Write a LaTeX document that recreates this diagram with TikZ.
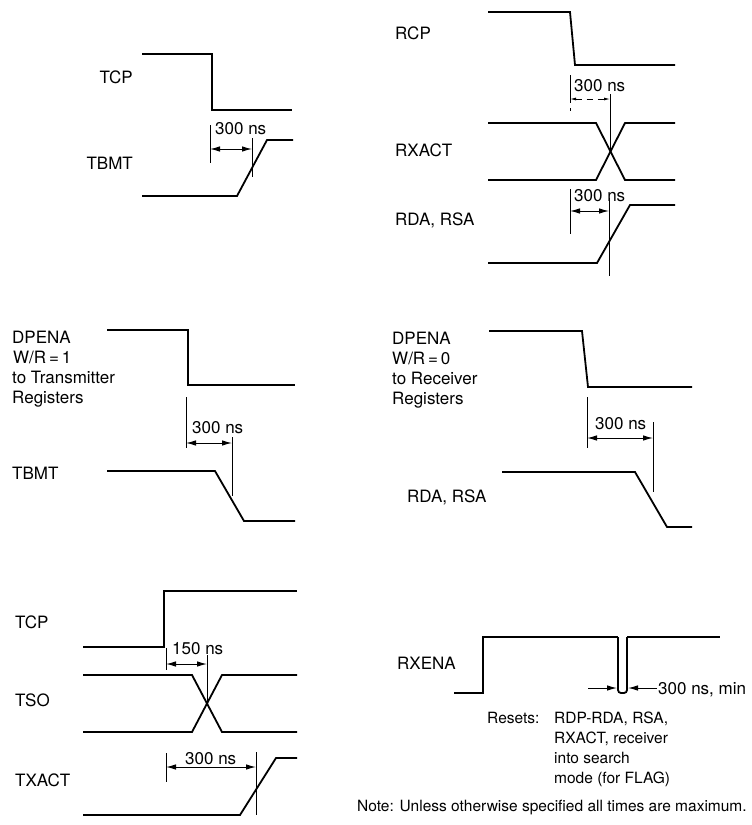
\documentclass[tikz,border=0pt]{standalone}
\usepackage{fontspec}
\setmainfont{TeX Gyre Heros}
\usetikzlibrary{arrows.meta}
\begin{document}
\begin{tikzpicture}[x=1pt,y=-1pt,
  sig/.style={line width=1.8pt,line join=miter},
  tick/.style={line width=0.9pt},
  dim/.style={line width=1pt,{Latex[length=10pt,width=5.5pt]}-{Latex[length=10pt,width=5.5pt]}},
  onearrow/.style={line width=1pt,-{Latex[length=10pt,width=5.5pt]}},
  lbl/.style={inner sep=0pt,font=\fontsize{17}{20}\selectfont},
  lw/.style={lbl,anchor=base west},
  le/.style={lbl,anchor=base east},
  small/.style={inner sep=0pt,anchor=base west,font=\fontsize{15.5}{20}\selectfont}]
\useasboundingbox (0,0) rectangle (752,825);

% ===== Panel A (top left) =====
\node[le] (aTCP) at (133,83) {TCP};
\node[le] (aTBMT) at (133,169) {TBMT};
\draw[sig] (142,54) -- (212,54) -- (212,110) -- (292,110);
\draw[sig] (142,196) -- (237,196) -- (267,140) -- (293,140);
\coordinate (aT1) at (210,125); \coordinate (aT1b) at (210,163);
\coordinate (aT2) at (252,138); \coordinate (aT2b) at (252,177);
\draw[tick] (aT1) -- (aT1b);
\draw[tick] (aT2) -- (aT2b);
\coordinate (aA1) at (210,149); \coordinate (aA2) at (252,149);
\draw[dim] (aA1) -- (aA2);
\node[lw] (aD) at (215,134) {300 ns};

% ===== Panel B (top right) =====
\node[lw] (bRCP) at (395,39) {RCP};
\node[lw] (bRX) at (395,156) {RXACT};
\node[lw] (bRDA) at (395,225) {RDA, RSA};
\draw[sig] (488,12) -- (570,12) -- (575,65) -- (675,65);
\draw[sig] (488,123) -- (596,123) -- (625,180) -- (675,180);
\draw[sig] (488,180) -- (596,180) -- (625,123) -- (675,123);
\draw[sig] (488,263) -- (597,263) -- (630,205) -- (675,205);
\coordinate (bT1) at (570,75); \coordinate (bT1b) at (570,100);
\coordinate (bT1c) at (570,112);
\coordinate (bT2) at (610,94); \coordinate (bT2b) at (610,152);
\draw[tick] (bT1) -- (bT1b);
\draw[tick,dash pattern=on 3pt off 5pt] (bT1b) -- (bT1c);
\draw[tick] (bT2) -- (bT2b);
\coordinate (bA1) at (570,99); \coordinate (bA2) at (610,99);
\draw[line width=0.8pt,dash pattern=on 6pt off 5pt,{Latex[length=6pt,width=3pt]}-{Latex[length=6pt,width=3pt]}] (bA1) -- (bA2);
\node[lw] (bD1) at (574,91) {300 ns};
\coordinate (bT3) at (570,189); \coordinate (bT3b) at (570,234);
\coordinate (bT4) at (609,198); \coordinate (bT4b) at (609,276);
\draw[tick] (bT3) -- (bT3b);
\draw[tick] (bT4) -- (bT4b);
\coordinate (bA3) at (570,211); \coordinate (bA4) at (609,211);
\draw[dim] (bA3) -- (bA4);
\node[lw] (bD2) at (574,201) {300 ns};

% ===== Panel C (middle left) =====
\node[lw] (cL1) at (12,343) {DPENA};
\node[lw] (cL2) at (13,363) {W/R\,=\,1};
\node[lw] (cL3) at (12,383) {to Transmitter};
\node[lw] (cL4) at (12,403) {Registers};
\node[lw] (cTBMT) at (12,479) {TBMT};
\draw[sig] (107,330) -- (188,330) -- (188,385) -- (295,385);
\draw[sig] (107,471) -- (215,471) -- (244,521) -- (295,521);
\coordinate (cT1) at (186,397); \coordinate (cT1b) at (186,448);
\coordinate (cT2) at (232,437); \coordinate (cT2b) at (232,496);
\draw[tick] (cT1) -- (cT1b);
\draw[tick] (cT2) -- (cT2b);
\coordinate (cA1) at (186,443); \coordinate (cA2) at (232,443);
\draw[dim] (cA1) -- (cA2);
\node[lw] (cD) at (192,433) {300 ns};

% ===== Panel D (middle right) =====
\node[lw] (dL1) at (392,344) {DPENA};
\node[lw] (dL2) at (392,364) {W/R\,=\,0};
\node[lw] (dL3) at (392,384) {to Receiver};
\node[lw] (dL4) at (392,404) {Registers};
\node[lw] (dRDA) at (407,502) {RDA, RSA};
\draw[sig] (489,331) -- (582,331) -- (588,387) -- (692,387);
\draw[sig] (502,472) -- (635,472) -- (667,527) -- (692,527);
\coordinate (dT1) at (587,397); \coordinate (dT1b) at (587,448);
\coordinate (dT2) at (653,422); \coordinate (dT2b) at (653,492);
\draw[tick] (dT1) -- (dT1b);
\draw[tick] (dT2) -- (dT2b);
\coordinate (dA1) at (587,438); \coordinate (dA2) at (653,438);
\draw[dim] (dA1) -- (dA2);
\node[lw] (dD) at (595,429) {300 ns};

% ===== Panel E (bottom left) =====
\node[lw] (eTCP) at (15,628) {TCP};
\node[lw] (eTSO) at (15,706) {TSO};
\node[lw] (eTX) at (15,786) {TXACT};
\draw[sig] (83,647) -- (164,647) -- (164,591) -- (297,591);
\draw[sig] (83,675) -- (192,675) -- (222,732) -- (297,732);
\draw[sig] (83,732) -- (192,732) -- (222,675) -- (297,675);
\draw[sig] (83,815) -- (240,815) -- (276,758) -- (297,758);
\coordinate (eT1) at (166,648); \coordinate (eT1b) at (166,670);
\coordinate (eT2) at (207,655); \coordinate (eT2b) at (207,703);
\draw[tick] (eT1) -- (eT1b);
\draw[tick] (eT2) -- (eT2b);
\coordinate (eA1) at (166,664); \coordinate (eA2) at (207,664);
\draw[dim] (eA1) -- (eA2);
\node[lw] (eD1) at (172,654) {150 ns};
\coordinate (eT3) at (166,753); \coordinate (eT3b) at (166,782);
\coordinate (eT4) at (256,752); \coordinate (eT4b) at (256,815);
\draw[tick] (eT3) -- (eT3b);
\draw[tick] (eT4) -- (eT4b);
\coordinate (eA3) at (166,767); \coordinate (eA4) at (256,767);
\draw[dim] (eA3) -- (eA4);
\node[lw] (eD2) at (185,764) {300 ns};

% ===== Panel F (bottom right) =====
\node[lw] (fRX) at (397,669) {RXENA};
\draw[sig] (454,693) -- (483,693) -- (483,637) -- (618,637);
\draw[sig,rounded corners=3pt] (618,637) -- (618,693) -- (627,693) -- (627,637);
\draw[sig] (627,637) -- (720,637);
\coordinate (fA1) at (588,688); \coordinate (fA2) at (617,688);
\coordinate (fB1) at (657,688); \coordinate (fB2) at (628,688);
\draw[onearrow] (fA1) -- (fA2);
\draw[onearrow] (fB1) -- (fB2);
\node[lw] (fD) at (658,694) {300 ns, min};
\node[small] (fR0) at (487,723) {Resets:};
\node[small] (fR1) at (554,723) {RDP-RDA, RSA,};
\node[small] (fR2) at (554,743) {RXACT, receiver};
\node[small] (fR3) at (554,763) {into search};
\node[small] (fR4) at (554,783) {mode (for FLAG)};
\node[small] (fN) at (357,811) {Note: Unless otherwise specified all times are maximum.};
\end{tikzpicture}
\end{document}
